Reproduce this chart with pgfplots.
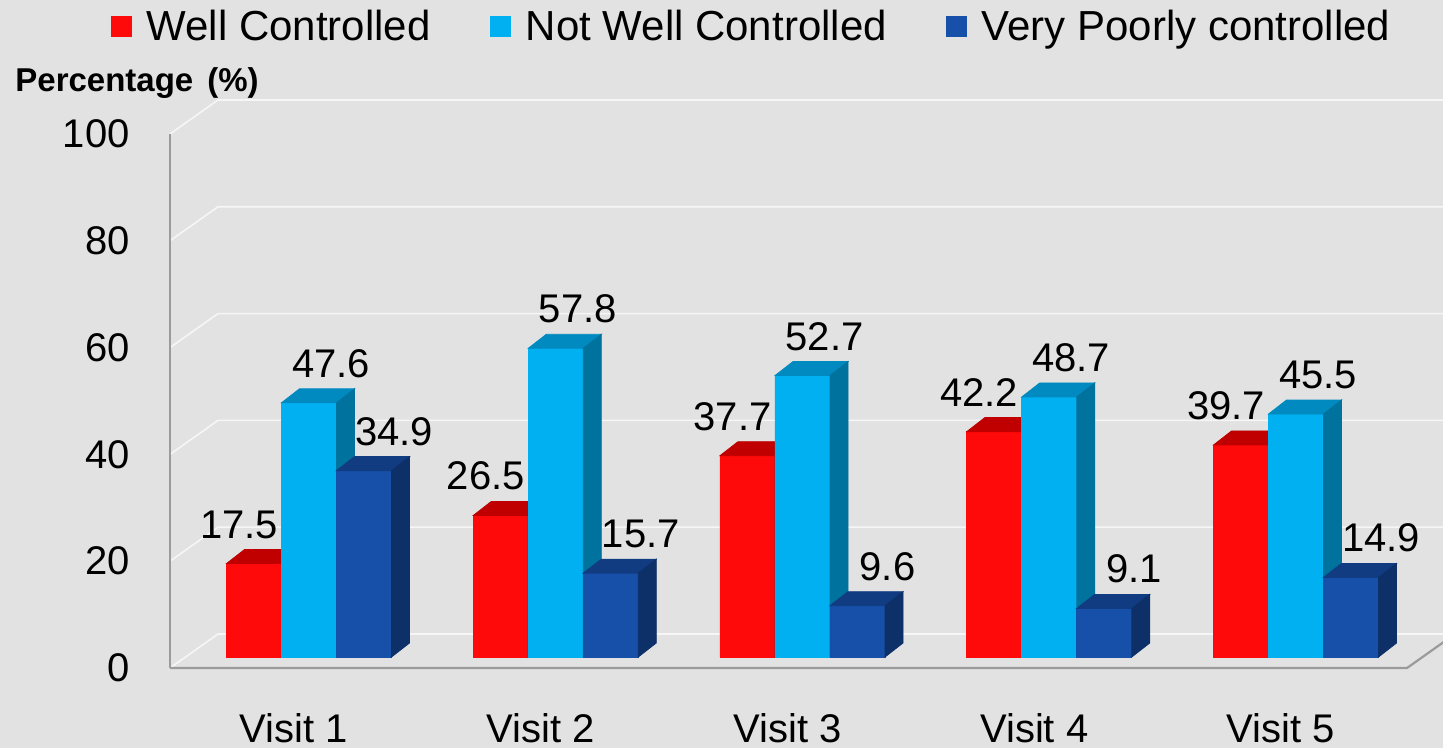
\documentclass[border=0pt]{standalone}
\usepackage{fontspec}
\setmainfont{Liberation Sans}
\usepackage{pgfplots}
\usepackage{pgfplotstable}
\pgfplotsset{compat=1.18}
\definecolor{bg}{RGB}{226,226,226}
\definecolor{cR}{RGB}{255,10,10}
\definecolor{cRt}{RGB}{192,0,0}
\definecolor{cRs}{RGB}{150,0,0}
\definecolor{cC}{RGB}{0,176,240}
\definecolor{cCt}{RGB}{0,138,192}
\definecolor{cCs}{RGB}{0,114,158}
\definecolor{cB}{RGB}{22,80,168}
\definecolor{cBt}{RGB}{18,60,130}
\definecolor{cBs}{RGB}{14,48,104}
\definecolor{gridc}{RGB}{246,246,246}
\definecolor{edgec}{RGB}{155,155,155}

\pgfplotstableread{
x wc nwc vpc
0 17.5 47.6 34.9
1 26.5 57.8 15.7
2 37.7 52.7 9.6
3 42.2 48.7 9.1
4 39.7 45.5 14.9
}\datatable

% 3-D bar drawn at its data point: name, shift (pt), front, top, side colour
\newcommand\declareprism[5]{%
  \pgfdeclareplotmark{#1}{%
    \pgfmathsetmacro\hh{\ry*2.67}%
    \fill[#3] (#2pt-13.75pt,0pt) rectangle (#2pt+13.75pt,-\hh pt);
    \fill[#4] (#2pt-13.75pt,0pt) -- (#2pt+13.75pt,0pt) -- (#2pt+22.75pt,7pt) -- (#2pt-4.75pt,7pt) -- cycle;
    \fill[#5] (#2pt+13.75pt,0pt) -- (#2pt+22.75pt,7pt) -- (#2pt+22.75pt,7pt-\hh pt) -- (#2pt+13.75pt,-\hh pt) -- cycle;
  }}
\declareprism{prismR}{-27.5}{cR}{cRt}{cRs}
\declareprism{prismC}{0}{cC}{cCt}{cCs}
\declareprism{prismB}{27.5}{cB}{cBt}{cBs}

\pgfplotsset{
  prism/.style n args={3}{% mark, column, label xshift
    only marks, forget plot, mark=#1,
    point meta=y,
    visualization depends on={\thisrow{#2} \as \ry},
    nodes near coords,
    every node near coord/.style={anchor=base, inner sep=0pt, xshift=#3, yshift=12.75pt,
      font=\fontsize{20}{24}\selectfont, text=black},
  }
}

\begin{document}
\begin{tikzpicture}
\useasboundingbox (0,0) rectangle (721.5pt,374pt);
\fill[bg] (0,0) rectangle (721.5pt,374pt);
\begin{scope}[x=0.5pt,y=-0.5pt,shift={(0pt,374pt)}]
  \foreach \v in {20,40,60,80,100}{
    \pgfmathsetmacro\yf{668-5.34*\v}
    \pgfmathsetmacro\yb{\yf-34}
    \draw[gridc, line width=0.8pt] (170,\yf) -- (218,\yb) -- (1443,\yb);
  }
  \draw[gridc, line width=0.8pt] (170,668) -- (218,634) -- (1443,634);
  \draw[edgec, line width=0.9pt] (170,134) -- (170,668);
  \draw[edgec, line width=1.1pt] (170,668) -- (1407,668) -- (1455,634);
  \node[anchor=base west, inner sep=0pt, font=\bfseries\fontsize{16.5}{19}\selectfont] at (15,92) {Percentage\hspace{7pt}(\%)};
\end{scope}

\begin{axis}[
  at={(92.5pt,45.5pt)}, anchor=south west,
  scale only axis, width=618.5pt, height=267pt,
  xmin=-0.5025, xmax=4.5106, ymin=0, ymax=100,
  enlargelimits=false, clip=false, clip marker paths=true,
  axis line style={draw=none}, tick style={draw=none},
  xtick={0,1,2,3,4},
  xticklabels={Visit 1,Visit 2,Visit 3,Visit 4,Visit 5},
  ytick={0,20,40,60,80,100},
  /pgf/number format/assume math mode=true,
  /pgf/number format/.cd, fixed, precision=1, /pgfplots/.cd,
  xticklabel style={anchor=base, inner sep=0pt, yshift=-42.5pt, xshift=-7.5pt, font=\fontsize{20}{24}\selectfont},
  yticklabel style={anchor=east, inner sep=0pt, xshift=-27.5pt, yshift=-5.5pt, font=\fontsize{20}{24}\selectfont},
  legend columns=3,
  legend style={at={(0.4588,1.18)}, anchor=center, draw=none, fill=none,
    font=\fontsize{21}{25}\selectfont,
    /tikz/every odd column/.append style={column sep=5.5pt},
    /tikz/every even column/.append style={column sep=27.5pt}},
]
\addplot[ybar, bar width=0.223, bar shift=-0.223, fill=cR, draw=none,
  legend image code/.code={\fill[cR] (0pt,-5.25pt) rectangle (10.5pt,5.25pt);}]
  table[x=x,y=wc]{\datatable};
\addlegendentry{Well Controlled}
\addplot[prism={prismR}{wc}{-35pt}] table[x=x,y=wc]{\datatable};

\addplot[ybar, bar width=0.223, bar shift=0, fill=cC, draw=none,
  legend image code/.code={\fill[cC] (0pt,-5.25pt) rectangle (10.5pt,5.25pt);}]
  table[x=x,y=nwc]{\datatable};
\addlegendentry{Not Well Controlled}
\addplot[prism={prismC}{nwc}{11pt}] table[x=x,y=nwc]{\datatable};

\addplot[ybar, bar width=0.223, bar shift=0.223, fill=cB, draw=none,
  legend image code/.code={\fill[cB] (0pt,-5.25pt) rectangle (10.5pt,5.25pt);}]
  table[x=x,y=vpc]{\datatable};
\addlegendentry{Very Poorly controlled}
\addplot[prism={prismB}{vpc}{42.5pt}] table[x=x,y=vpc]{\datatable};
\end{axis}
\end{tikzpicture}
\end{document}
